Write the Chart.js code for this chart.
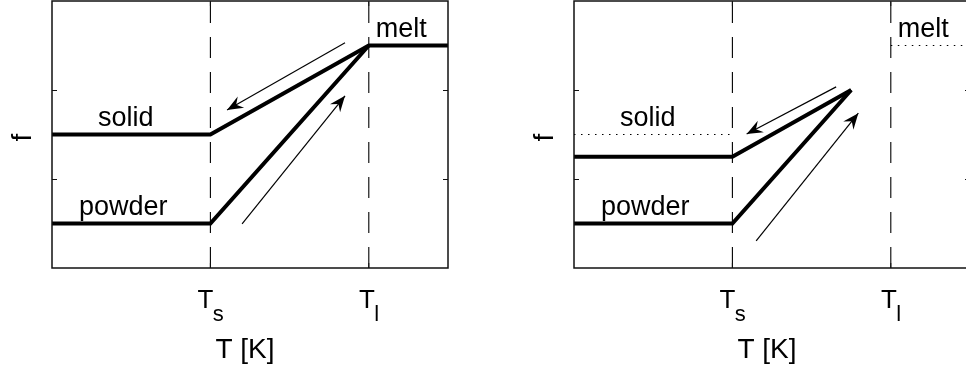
<!DOCTYPE html>
<html>
<head>
<meta charset="utf-8">
<script src="https://cdn.jsdelivr.net/npm/chart.js@4.4.1/dist/chart.umd.min.js"></script>
<style>
  html, body { margin: 0; padding: 0; background: #fff; overflow: hidden; }
  #wrap { position: relative; width: 966px; height: 372px; overflow: hidden; background: #fff; }
  canvas { position: absolute; top: 0; }
</style>
</head>
<body>
<div id="wrap">
  <canvas id="full" width="500" height="372" style="left:0"></canvas>
  <canvas id="partial" width="500" height="372" style="left:522px"></canvas>
</div>
<script>
// Temperature axis runs 0..5; solidus and liquidus marks
const tempTicks = [2, 4];
const tickMain = ['T', 'T'];
const tickSub = ['s', 'l'];
// Inner tick marks on the f axis (no labels)
const fTicks = [2, 4];

// Heated past the liquidus: powder and solid both reach the melt level
const fullSolidX = [0, 2, 4, 5];
const fullSolidY = [3, 3, 5, 5];
const fullPowderX = [0, 2, 4];
const fullPowderY = [1, 1, 4.999];
const fullCoolX = [3.70, 2.21];
const fullCoolY = [5.06, 3.55];
const fullHeatX = [2.40, 3.70];
const fullHeatY = [0.99, 3.87];

// Heated only part way between solidus and liquidus
const partSolidX = [0, 2, 3.5];
const partSolidY = [2.5, 2.5, 4];
const partPowderX = [0, 2, 3.5];
const partPowderY = [1, 1, 4];
const partSolidRefX = [0, 2];
const partSolidRefY = [3, 3];
const partMeltRefX = [4, 5];
const partMeltRefY = [5, 5];
const partCoolX = [3.31, 2.18];
const partCoolY = [4.07, 3.01];
const partHeatX = [2.30, 3.59];
const partHeatY = [0.61, 3.48];

// Solidus / liquidus guide lines span the whole f range
const fRange = [0, 6];

const labelNames = ['solid', 'powder', 'melt'];
const labelX = [0.93, 0.90, 4.41];
const labelY = [3.18, 1.19, 5.18];

const FONT = '"Liberation Sans", Arial, Helvetica, sans-serif';

function pts(xs, ys) { return xs.map((x, i) => ({ x: x, y: ys[i] })); }

function thick(xs, ys) {
  return { data: pts(xs, ys), borderColor: '#000', borderWidth: 4, borderJoinStyle: 'miter', borderCapStyle: 'butt' };
}
function thin(xs, ys) {
  return { data: pts(xs, ys), borderColor: '#000', borderWidth: 1.2, arrow: true };
}
function dotted(xs, ys) {
  return { data: pts(xs, ys), borderColor: '#000', borderWidth: 1.2, borderDash: [1.5, 5.5] };
}
function dashed(xv) {
  return { data: pts([xv, xv], fRange), borderColor: '#000', borderWidth: 1.1, borderDash: [21, 14] };
}

const decor = {
  id: 'decor',
  afterDatasetsDraw(chart) {
    const { ctx, chartArea: a, scales: { x, y } } = chart;
    ctx.save();

    // arrowheads at the end of each thin arrow
    chart.data.datasets.forEach((ds) => {
      if (!ds.arrow) return;
      const n = ds.data.length;
      const x0 = x.getPixelForValue(ds.data[n - 2].x), y0 = y.getPixelForValue(ds.data[n - 2].y);
      const x1 = x.getPixelForValue(ds.data[n - 1].x), y1 = y.getPixelForValue(ds.data[n - 1].y);
      const ang = Math.atan2(y1 - y0, x1 - x0);
      const L = 16, W = 6.5, N = 10.5;
      const ux = Math.cos(ang), uy = Math.sin(ang), px = -uy, py = ux;
      ctx.beginPath();
      ctx.moveTo(x1, y1);
      ctx.lineTo(x1 - ux * L + px * W, y1 - uy * L + py * W);
      ctx.lineTo(x1 - ux * N, y1 - uy * N);
      ctx.lineTo(x1 - ux * L - px * W, y1 - uy * L - py * W);
      ctx.closePath();
      ctx.fillStyle = '#000';
      ctx.fill();
    });

    // axes box
    ctx.strokeStyle = '#111';
    ctx.lineWidth = 1.5;
    ctx.strokeRect(a.left, a.top, a.right - a.left, a.bottom - a.top);

    // inward tick marks
    ctx.lineWidth = 1;
    ctx.beginPath();
    fTicks.forEach((v) => {
      const py = Math.round(y.getPixelForValue(v)) + 0.5;
      ctx.moveTo(a.left, py); ctx.lineTo(a.left + 5, py);
      ctx.moveTo(a.right, py); ctx.lineTo(a.right - 5, py);
    });
    tempTicks.forEach((v) => {
      const px = x.getPixelForValue(v);
      ctx.moveTo(px, a.bottom); ctx.lineTo(px, a.bottom - 5);
      ctx.moveTo(px, a.top); ctx.lineTo(px, a.top + 5);
    });
    ctx.stroke();

    ctx.fillStyle = '#000';
    // temperature tick labels with subscripts
    tempTicks.forEach((v, i) => {
      const px = x.getPixelForValue(v);
      ctx.font = '26px ' + FONT;
      const wMain = ctx.measureText(tickMain[i]).width;
      ctx.font = '22px ' + FONT;
      const wSub = ctx.measureText(tickSub[i]).width;
      const x0 = px - (wMain + wSub) / 2 + 0.5;
      ctx.textAlign = 'left';
      ctx.textBaseline = 'alphabetic';
      ctx.font = '26px ' + FONT;
      ctx.fillText(tickMain[i], x0, a.bottom + 40);
      ctx.font = '22px ' + FONT;
      ctx.fillText(tickSub[i], x0 + wMain - 0.5, a.bottom + 53);
    });

    // curve labels
    ctx.font = '27px ' + FONT;
    ctx.textAlign = 'center';
    ctx.textBaseline = 'alphabetic';
    labelNames.forEach((t, i) => {
      ctx.fillText(t, x.getPixelForValue(labelX[i]), y.getPixelForValue(labelY[i]));
    });

    // axis titles
    ctx.font = '28px ' + FONT;
    ctx.fillText('T [K]', (a.left + a.right) / 2 - 5, a.bottom + 90);
    ctx.save();
    ctx.translate(a.left - 21, (a.top + a.bottom) / 2 + 3);
    ctx.rotate(-Math.PI / 2);
    ctx.fillText('f', 0, 0);
    ctx.restore();

    ctx.restore();
  }
};

function makeChart(id, datasets) {
  return new Chart(document.getElementById(id), {
    type: 'line',
    data: { datasets: datasets },
    options: {
      responsive: false,
      animation: false,
      events: [],
      layout: { padding: { left: 52, top: 1, right: 52, bottom: 104 } },
      elements: { point: { radius: 0 }, line: { tension: 0, fill: false } },
      plugins: { legend: { display: false }, tooltip: { enabled: false } },
      scales: {
        x: { type: 'linear', min: 0, max: 5, display: false },
        y: { type: 'linear', min: 0, max: 6, display: false }
      }
    },
    plugins: [decor]
  });
}

makeChart('full', [
  dashed(tempTicks[0]), dashed(tempTicks[1]),
  thick(fullSolidX, fullSolidY),
  thick(fullPowderX, fullPowderY),
  thin(fullCoolX, fullCoolY),
  thin(fullHeatX, fullHeatY)
]);

makeChart('partial', [
  dashed(tempTicks[0]), dashed(tempTicks[1]),
  dotted(partSolidRefX, partSolidRefY),
  dotted(partMeltRefX, partMeltRefY),
  thick(partSolidX, partSolidY),
  thick(partPowderX, partPowderY),
  thin(partCoolX, partCoolY),
  thin(partHeatX, partHeatY)
]);
</script>
</body>
</html>
